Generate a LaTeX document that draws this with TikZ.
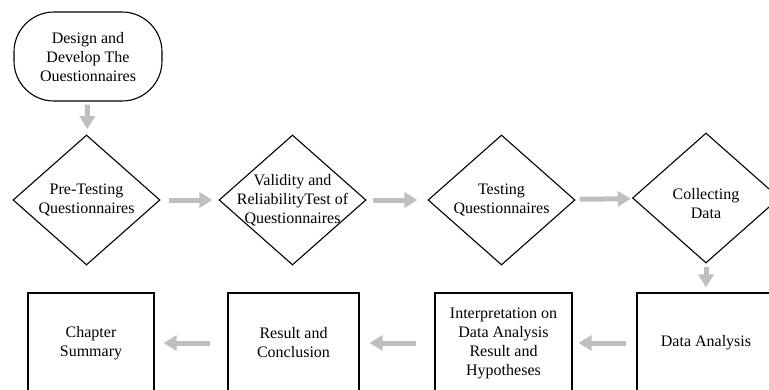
\documentclass[tikz,border=0pt]{standalone}
\usepackage{fontspec}
\setmainfont{Liberation Serif}
\usetikzlibrary{shapes.geometric,arrows.meta}

\tikzset{
  flow/.style={draw=gray!50, line width=5pt, -{Triangle[length=13pt,width=15pt]}, shorten <=6pt, shorten >=6pt},
  start/.style={draw, line width=1.1pt, rounded corners=40pt, minimum width=148pt, minimum height=89pt, align=center},
  decision/.style={diamond, draw, line width=1.1pt, minimum width=147pt, minimum height=130pt, inner sep=0pt},
  process/.style={draw, line width=1.1pt, minimum height=100pt, align=center, inner sep=0pt}
}

\begin{document}
\begin{tikzpicture}[x=1pt, y=-1pt, font=\fontsize{16}{19}\selectfont]
\clip (0,0) rectangle (769,389);

\node[start] (s0) at (88,56.5) {\\[-6pt]Design and\\Develop The\\Ouestionnaires};

\node[decision, label={[align=center]center:Pre-Testing\\Questionnaires}] (d1) at (86.5,200) {};
\node[decision, label={[align=center]center:Validity and\\ReliabilityTest of\\Questionnaires}] (d2) at (292.5,200) {};
\node[decision, label={[align=center]center:Testing\\Questionnaires}] (d3) at (501.5,200) {};
\node[decision, label={[align=center,yshift=-6pt]center:Collecting\\Data}] (d4) at (706,198) {};

\node[process, minimum width=126pt] (p1) at (91,343) {Chapter\\Summary};
\node[process, minimum width=131pt] (p2) at (293.5,343) {Result and\\Conclusion};
\node[process, minimum width=137pt] (p3) at (503.5,343) {Interpretation on\\Data Analysis\\Result and\\Hypotheses};
\node[process, minimum width=138pt] (p4) at (706,343) {Data Analysis};

\draw[flow, shorten <=3pt] (s0) -- (d1);
\draw[flow, shorten <=8pt] (d1) -- (d2);
\draw[flow, shorten >=10pt] (d2) -- (d3);
\draw[flow, shorten <=5pt, shorten >=2pt] (d3) -- (d4);
\draw[flow, shorten <=3pt, shorten >=5pt] (d4) -- (p4);

\draw[flow, shorten <=10pt] (p4) -- (p3);
\draw[flow, shorten <=18pt, shorten >=10pt] (p3) -- (p2);
\draw[flow, shorten <=17pt, shorten >=9pt] (p2) -- (p1);
\end{tikzpicture}
\end{document}
